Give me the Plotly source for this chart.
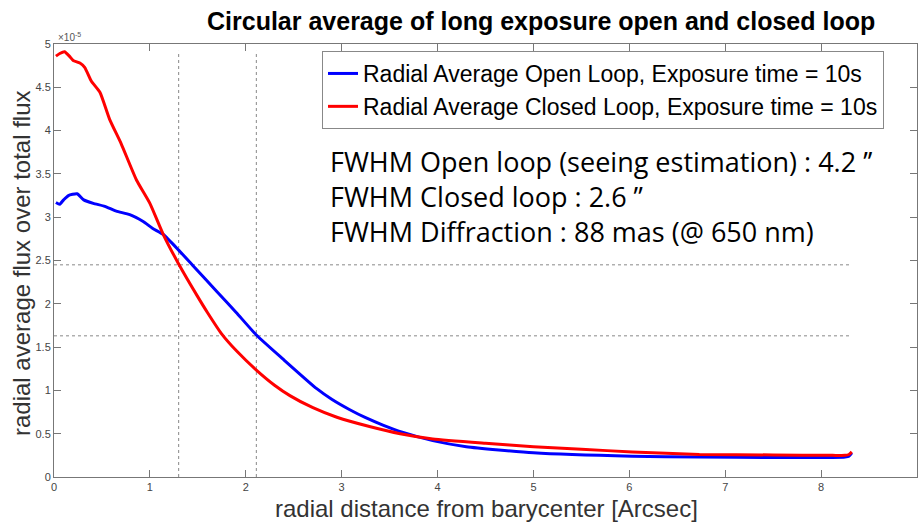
import plotly.graph_objects as go

# Radial distance [arcsec]
open_x = [0.02, 0.06, 0.10, 0.15, 0.24, 0.31, 0.41, 0.53, 0.65, 0.79, 0.93, 1.03, 1.14,
          1.30, 1.45, 1.70, 1.90, 2.11, 2.39, 2.74, 2.90, 3.08, 3.25, 3.43, 3.64, 3.95,
          4.30, 5.00, 6.03, 6.73, 7.50, 8.12, 8.25, 8.29, 8.32]
# Radial average flux over total flux (units of 1e-5)
open_y = [3.17, 3.15, 3.20, 3.25, 3.27, 3.20, 3.16, 3.125, 3.07, 3.03, 2.95, 2.87, 2.80,
          2.62, 2.44, 2.14, 1.90, 1.64, 1.36, 1.02, 0.895, 0.78, 0.685, 0.60, 0.515, 0.42,
          0.35, 0.28, 0.24, 0.23, 0.225, 0.225, 0.23, 0.24, 0.28]

closed_x = [0.02, 0.06, 0.11, 0.16, 0.20, 0.27, 0.32, 0.39, 0.48, 0.58, 0.70, 0.86, 1.00,
            1.14, 1.30, 1.50, 1.60, 1.75, 1.90, 2.11, 2.30, 2.46, 2.70, 2.95, 3.30, 3.61,
            3.95, 4.50, 5.00, 5.50, 6.03, 6.73, 7.50, 8.12, 8.25, 8.29, 8.32]
closed_y = [4.86, 4.89, 4.91, 4.86, 4.81, 4.78, 4.73, 4.57, 4.44, 4.13, 3.85, 3.43, 3.16,
            2.80, 2.46, 2.08, 1.90, 1.65, 1.46, 1.235, 1.06, 0.94, 0.80, 0.69, 0.58, 0.50,
            0.44, 0.39, 0.35, 0.32, 0.29, 0.26, 0.255, 0.25, 0.25, 0.26, 0.29]

fwhm_x = [1.30, 2.11]          # vertical guide lines
half_max_y = [2.45, 1.63]      # horizontal guide lines
guide_x_end = 8.32
guide_y_top = 4.92

legend_names = ["Radial Average Open Loop, Exposure time = 10s",
                "Radial Average Closed Loop, Exposure time = 10s"]
info_lines = ["FWHM Open loop (seeing estimation) : 4.2 \u2019\u2019",
              "FWHM Closed loop : 2.6 \u2019\u2019",
              "FWHM Diffraction : 88 mas (@ 650 nm)"]
x_ticks = list(range(0, 10))
y_ticks = [0, 0.5, 1, 1.5, 2, 2.5, 3, 3.5, 4, 4.5, 5]

W, H = 920, 527
ML, MR, MT, MB = 54, 3, 44, 50
PW, PH = W - ML - MR, H - MT - MB

def px(xs):   # screen pixel -> paper x
    return (xs - ML) / PW

def py(ys):   # screen pixel -> paper y
    return (H - MB - ys) / PH

fig = go.Figure()

guide = dict(color="#888888", width=1, dash="dot")
for gx in fwhm_x:
    fig.add_trace(go.Scatter(x=[gx, gx], y=[0, guide_y_top], mode="lines",
                             line=guide, showlegend=False, hoverinfo="skip"))
for gy in half_max_y:
    fig.add_trace(go.Scatter(x=[0, guide_x_end], y=[gy, gy], mode="lines",
                             line=guide, showlegend=False, hoverinfo="skip"))

fig.add_trace(go.Scatter(x=open_x, y=open_y, mode="lines", name=legend_names[0],
                         line=dict(color="#0000ff", width=3, shape="spline", smoothing=0.5)))
fig.add_trace(go.Scatter(x=closed_x, y=closed_y, mode="lines", name=legend_names[1],
                         line=dict(color="#ff0000", width=3, shape="spline", smoothing=0.5)))

axis_common = dict(showline=True, linecolor="#777777", linewidth=1, mirror="ticks",
                   ticks="inside", ticklen=7, tickcolor="#777777", showgrid=False,
                   zeroline=False, automargin=False,
                   tickfont=dict(family="Liberation Sans, Arial", size=11, color="#444444"))

fig.update_layout(
    width=W, height=H,
    margin=dict(l=ML, r=MR, t=MT, b=MB, autoexpand=False),
    plot_bgcolor="white", paper_bgcolor="white",
    font=dict(family="Liberation Sans, Arial"),
    xaxis=dict(range=[0, 9], tickvals=x_ticks, **axis_common),
    yaxis=dict(range=[0, 5], tickvals=y_ticks, **axis_common),
    legend=dict(x=px(322), y=py(51), xanchor="left", yanchor="top",
                bgcolor="white", bordercolor="#888888", borderwidth=1,
                font=dict(size=23, color="black", family="Liberation Sans, Arial"),
                itemwidth=30, tracegroupgap=0),
    showlegend=True,
)

annotations = [
    dict(text="<b>Circular average of long exposure open and closed loop</b>",
         xref="paper", yref="paper", x=px(541), y=py(21), xanchor="center", yanchor="middle",
         showarrow=False, font=dict(size=25, color="black", family="Liberation Sans, Arial")),
    dict(text="\u00d710<sup>-5</sup>", xref="paper", yref="paper", x=px(56), y=py(37),
         xanchor="left", yanchor="middle", showarrow=False,
         font=dict(size=10, color="#555555", family="Liberation Sans, Arial")),
    dict(text="radial distance from barycenter [Arcsec]", xref="paper", yref="paper",
         x=px(486), y=py(508), xanchor="center", yanchor="middle", showarrow=False,
         font=dict(size=24, color="#333333", family="Liberation Sans, Arial")),
    dict(text="radial average flux over total flux", xref="paper", yref="paper",
         x=px(21), y=py(263), xanchor="center", yanchor="middle", showarrow=False,
         textangle=-90,
         font=dict(size=24, color="#333333", family="Liberation Sans, Arial")),
    dict(text="<br>".join(info_lines), xref="paper", yref="paper", x=px(328), y=py(196),
         xanchor="left", yanchor="middle", align="left", showarrow=False,
         font=dict(size=27, color="black", family="Open Sans")),
]
fig.update_layout(annotations=annotations)

fig.write_html("out.html", config={"displayModeBar": False},
               post_script="document.body.style.margin='0';document.body.style.padding='0';")
